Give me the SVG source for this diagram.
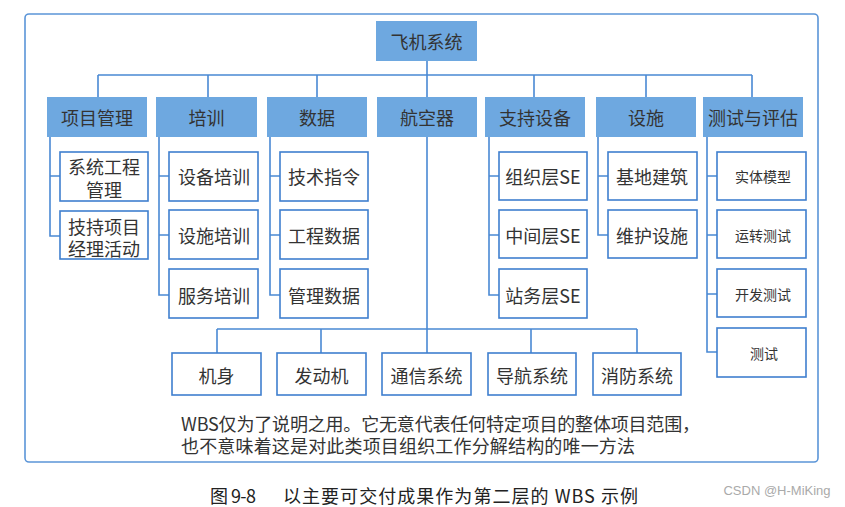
<svg xmlns="http://www.w3.org/2000/svg" width="845" height="507" viewBox="0 0 845 507">
<style>
text{font-family:"Noto Sans CJK SC","Noto Sans",sans-serif;fill:#333;dominant-baseline:central;text-anchor:middle}
.t18{font-size:18px}
.t14{font-size:14px}
.hdr{fill:#6ea8e0;stroke:none}
.box{fill:#fff;stroke:#3f7fcf;stroke-width:1.6}
.ln{fill:none;stroke:#4a89d4;stroke-width:1.6}
.note{font-size:18px;text-anchor:start}
.cap{font-size:18px;fill:#222;text-anchor:start}
.wm{font-family:"Liberation Sans",Arial,sans-serif;font-size:13px;fill:#aaa}
</style>
<rect x="25" y="14" width="793" height="448" rx="4" fill="#fff" stroke="#5b95d8" stroke-width="1.6"/>
<g id="connectors">
<path class="ln" d="M427,61V75M98,75H752M98,75V97M208,75V97M317,75V97M427,75V97M534,75V97M646,75V97M752,75V97"/>
<path class="ln" d="M50,137V236H60M50,176H60"/>
<path class="ln" d="M159,137V295H169M159,176H169M159,235H169"/>
<path class="ln" d="M270,137V295H280M270,176H280M270,235H280"/>
<path class="ln" d="M489,137V295H499M489,176H499M489,235H499"/>
<path class="ln" d="M598,137V235H608M598,176H608"/>
<path class="ln" d="M707,137V352H717M707,176H717M707,235H717M707,294H717"/>
<path class="ln" d="M427,137V353M217,329H637M217,329V353M321,329V353M531,329V353M637,329V353"/>
</g>
<g id="root"><rect class="hdr" x="376" y="21" width="101" height="40"/><text class="t18" x="426.5" y="41">飞机系统</text></g>
<g id="n-pm"><rect class="hdr" x="47" y="97" width="100" height="40"/><text class="t18" x="97" y="117">项目管理</text></g>
<g id="n-train"><rect class="hdr" x="156" y="97" width="101" height="40"/><text class="t18" x="206.5" y="117">培训</text></g>
<g id="n-data"><rect class="hdr" x="267" y="97" width="100" height="40"/><text class="t18" x="317" y="117">数据</text></g>
<g id="n-air"><rect class="hdr" x="377" y="97" width="100" height="40"/><text class="t18" x="427" y="117">航空器</text></g>
<g id="n-sup"><rect class="hdr" x="485" y="97" width="100" height="40"/><text class="t18" x="535" y="117">支持设备</text></g>
<g id="n-fac"><rect class="hdr" x="596" y="97" width="100" height="40"/><text class="t18" x="646" y="117">设施</text></g>
<g id="n-test"><rect class="hdr" x="703" y="97" width="100" height="40"/><text class="t18" x="753" y="117">测试与评估</text></g>

<g id="n-pm1"><rect class="box" x="60" y="152" width="88" height="49"/><text class="t18" x="104" y="166">系统工程</text><text class="t18" x="104" y="189">管理</text></g>
<g id="n-pm2"><rect class="box" x="60" y="211" width="88" height="48"/><text class="t18" x="104" y="226">技持项目</text><text class="t18" x="104" y="248">经理活动</text></g>

<g id="n-tr1"><rect class="box" x="169" y="152" width="89" height="49"/><text class="t18" x="214" y="176">设备培训</text></g>
<g id="n-tr2"><rect class="box" x="169" y="210" width="89" height="49"/><text class="t18" x="214" y="235">设施培训</text></g>
<g id="n-tr3"><rect class="box" x="169" y="269" width="89" height="49"/><text class="t18" x="214" y="295">服务培训</text></g>

<g id="n-d1"><rect class="box" x="280" y="152" width="88" height="49"/><text class="t18" x="324" y="176">技术指令</text></g>
<g id="n-d2"><rect class="box" x="280" y="210" width="88" height="49"/><text class="t18" x="324" y="235">工程数据</text></g>
<g id="n-d3"><rect class="box" x="280" y="269" width="88" height="49"/><text class="t18" x="324" y="295">管理数据</text></g>

<g id="n-s1"><rect class="box" x="499" y="152" width="88" height="48"/><text class="t18" x="543" y="176">组织层SE</text></g>
<g id="n-s2"><rect class="box" x="499" y="210" width="88" height="48"/><text class="t18" x="543" y="235">中间层SE</text></g>
<g id="n-s3"><rect class="box" x="499" y="269" width="88" height="49"/><text class="t18" x="543" y="295">站务层SE</text></g>

<g id="n-f1"><rect class="box" x="608" y="152" width="89" height="48"/><text class="t18" x="652" y="176">基地建筑</text></g>
<g id="n-f2"><rect class="box" x="608" y="210" width="89" height="48"/><text class="t18" x="652" y="235">维护设施</text></g>

<g id="n-t1"><rect class="box" x="717" y="152" width="89" height="48"/><text class="t14" x="763" y="176">实体模型</text></g>
<g id="n-t2"><rect class="box" x="717" y="210" width="89" height="48"/><text class="t14" x="763" y="235">运转测试</text></g>
<g id="n-t3"><rect class="box" x="717" y="269" width="89" height="48"/><text class="t14" x="763" y="294">开发测试</text></g>
<g id="n-t4"><rect class="box" x="717" y="328" width="89" height="49"/><text class="t14" x="764" y="353">测试</text></g>

<g id="n-a1"><rect class="box" x="172" y="353" width="89" height="42"/><text class="t18" x="216.5" y="375">机身</text></g>
<g id="n-a2"><rect class="box" x="277" y="353" width="89" height="42"/><text class="t18" x="321.5" y="375">发动机</text></g>
<g id="n-a3"><rect class="box" x="382" y="353" width="89" height="42"/><text class="t18" x="426.5" y="375">通信系统</text></g>
<g id="n-a4"><rect class="box" x="488" y="353" width="88" height="42"/><text class="t18" x="532" y="375">导航系统</text></g>
<g id="n-a5"><rect class="box" x="593" y="353" width="88" height="42"/><text class="t18" x="637" y="375">消防系统</text></g>

<text class="note" x="181" y="423" textLength="519" lengthAdjust="spacing">WBS仅为了说明之用。它无意代表任何特定项目的整体项目范围，</text>
<text class="note" x="181" y="445" textLength="454" lengthAdjust="spacing">也不意味着这是对此类项目组织工作分解结构的唯一方法</text>
<text class="cap" x="210" y="495" textLength="46" lengthAdjust="spacing">图 9-8</text>
<text class="cap" x="283" y="495" textLength="355" lengthAdjust="spacing">以主要可交付成果作为第二层的 WBS 示例</text>
<text class="wm" x="777" y="490">CSDN @H-MiKing</text>
</svg>
